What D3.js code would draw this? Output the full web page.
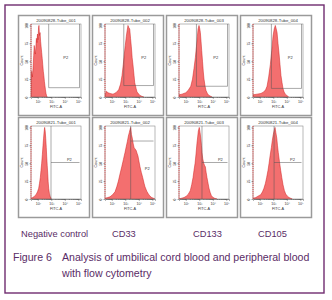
<!DOCTYPE html>
<html>
<head>
<meta charset="utf-8">
<script src="https://cdn.jsdelivr.net/npm/d3@7"></script>
<style>
  body { margin: 0; background: #fff; }
  svg { display: block; font-family: Arial, "Liberation Sans", sans-serif; }
</style>
</head>
<body>
<div id="chart"></div>
<script>
// Títulos de cada tubo (fila 1: sangre de cordón, fila 2: sangre periférica)
const titulos = [
  "20090828-Tube_001", "20090828-Tube_002", "20090828-Tube_003", "20090828-Tube_004",
  "20090821-Tube_001", "20090821-Tube_002", "20090821-Tube_003", "20090821-Tube_004"
];
const columnas = ["Negative control", "CD33", "CD133", "CD105"];
const ticksX = [2, 3, 4, 5];          // décadas log10 de FITC-A
const ticksY = [0, 25, 50, 75, 100];  // cuentas relativas

// Histogramas: [log10 FITC-A, cuentas relativas]
const cordonNeg = [[1.50,30],[1.55,36],[1.60,28],[1.65,40],[1.70,58],[1.74,72],[1.78,64],[1.82,60],[1.86,70],[1.90,82],[1.94,76],[1.98,88],[2.02,80],[2.06,97],[2.09,100],[2.13,86],[2.17,90],[2.21,78],[2.25,70],[2.29,62],[2.33,54],[2.37,45],[2.41,36],[2.45,30],[2.49,22],[2.53,16],[2.57,10],[2.61,5],[2.65,2],[2.70,0]];
const cordonCD33 = [[1.50,3],[1.61,8],[1.72,6],[1.87,5],[2.09,4],[2.31,6],[2.51,10],[2.65,18],[2.76,30],[2.85,45],[2.93,60],[3.00,72],[3.08,85],[3.14,93],[3.20,100],[3.26,97],[3.33,95],[3.39,82],[3.45,70],[3.51,55],[3.57,45],[3.65,30],[3.70,20],[3.80,12],[3.87,7],[4.09,2],[4.37,0]];
const cordonCD133 = [[1.50,3],[1.72,4],[2.00,6],[2.17,9],[2.37,15],[2.50,25],[2.61,40],[2.71,55],[2.79,70],[2.86,85],[2.91,95],[2.98,100],[3.03,96],[3.08,90],[3.13,78],[3.18,65],[3.24,50],[3.30,35],[3.35,25],[3.43,15],[3.50,9],[3.60,5],[3.72,2],[3.85,1],[3.94,0]];
const cordonCD105 = [[1.50,3],[1.80,4],[2.09,5],[2.29,7],[2.43,10],[2.54,15],[2.66,28],[2.78,45],[2.89,65],[2.98,85],[3.07,95],[3.15,100],[3.22,95],[3.28,90],[3.35,75],[3.43,60],[3.50,45],[3.57,30],[3.65,20],[3.72,12],[3.80,7],[3.89,4],[4.14,0]];
const perifNeg = [[1.50,1],[1.63,2],[1.76,4],[1.87,6],[1.98,10],[2.07,15],[2.13,22],[2.19,30],[2.24,40],[2.29,50],[2.34,62],[2.39,75],[2.43,85],[2.46,92],[2.49,97],[2.51,100],[2.55,95],[2.59,85],[2.63,72],[2.66,60],[2.70,47],[2.74,35],[2.77,24],[2.81,15],[2.86,8],[2.91,4],[3.00,0]];
const perifCD33 = [[1.50,1],[1.69,2],[1.87,3],[2.06,6],[2.24,10],[2.37,17],[2.49,25],[2.61,35],[2.74,45],[2.86,55],[2.98,65],[3.07,73],[3.15,80],[3.23,88],[3.30,93],[3.35,97],[3.40,100],[3.46,90],[3.52,85],[3.59,77],[3.65,72],[3.72,70],[3.80,68],[3.87,64],[3.94,60],[4.02,52],[4.09,45],[4.19,37],[4.29,30],[4.39,22],[4.46,17],[4.59,11],[4.71,7],[4.83,4],[4.96,2],[5.09,1],[5.20,0]];
const perifCD133 = [[1.50,0],[1.67,1],[1.87,2],[2.04,4],[2.20,7],[2.34,12],[2.44,20],[2.54,30],[2.61,40],[2.69,50],[2.76,63],[2.83,78],[2.89,88],[2.93,95],[3.00,100],[3.06,93],[3.11,85],[3.16,75],[3.20,65],[3.26,56],[3.33,50],[3.39,47],[3.45,45],[3.51,37],[3.57,30],[3.65,22],[3.72,15],[3.81,9],[3.89,5],[4.02,2],[4.14,1],[4.31,0]];
const perifCD105 = [[1.50,1],[1.70,2],[1.87,4],[2.07,6],[2.20,10],[2.31,15],[2.42,22],[2.51,30],[2.61,40],[2.69,50],[2.77,61],[2.86,72],[2.93,82],[3.00,90],[3.07,96],[3.13,100],[3.19,93],[3.26,85],[3.31,75],[3.37,65],[3.46,52],[3.55,40],[3.63,30],[3.72,20],[3.82,12],[3.92,7],[4.04,4],[4.17,2],[4.41,0]];

// Compuertas P2: [posición log10, nivel (cuentas), etiqueta x log10, etiqueta y]
const gateCordon = [[2.81,13,4.07,53],[2.89,16,4.37,53],[2.79,15,4.22,53],[2.86,12,4.26,53]];
const gatePerif  = [[2.98,51,4.34,53],[3.40,81,4.63,40],[3.20,51,4.56,53],[3.06,51,4.42,53]];

const histogramas = [cordonNeg, cordonCD33, cordonCD133, cordonCD105, perifNeg, perifCD33, perifCD133, perifCD105];
const gates = [...gateCordon, ...gatePerif];

const W = 332, H = 300;
const svg = d3.select("#chart").append("svg").attr("width", W).attr("height", H);

// Marco exterior morado
svg.append("rect").attr("x", 5).attr("y", 5).attr("width", 319).attr("height", 288)
  .attr("fill", "#fff").attr("stroke", "#6f2c6f").attr("stroke-width", 1.4);

const panelX = [18, 92, 166, 240];
const panelY = [15, 117];
const panelW = 72, panelH = 101;
const m = { left: 13, top: 9, width: 50, height: 73 };

const x = d3.scaleLinear().domain([1.5, 5.2]).range([0, m.width]);
const y = d3.scaleLinear().domain([0, 102]).range([m.height, 0]);
const sup = { 2: "\u00b2", 3: "\u00b3", 4: "\u2074", 5: "\u2075" };

// ticks menores en escala log
const menores = [];
for (let dec = 1; dec <= 5; dec++) {
  for (let k = 2; k <= 9; k++) {
    const v = dec + Math.log10(k);
    if (v > 1.5 && v < 5.2) menores.push(v);
  }
}

histogramas.forEach((datos, i) => {
  const fila = Math.floor(i / 4), col = i % 4;
  const p = svg.append("g").attr("transform", `translate(${panelX[col]},${panelY[fila]})`);

  // borde gris del panel
  p.append("rect").attr("x", 0.5).attr("y", 0.5).attr("width", panelW - 1).attr("height", panelH - 1)
    .attr("fill", "#fff").attr("stroke", "#9a9a9a").attr("stroke-width", 1.5);

  p.append("text").attr("x", m.left + m.width / 2).attr("y", 6.5)
    .attr("text-anchor", "middle").attr("font-size", 4.3).attr("fill", "#333")
    .text(titulos[i]);

  const g = p.append("g").attr("transform", `translate(${m.left},${m.top})`);

  const clipId = "clip" + i;
  g.append("clipPath").attr("id", clipId).append("rect")
    .attr("width", m.width).attr("height", m.height);

  // histograma rojo
  const area = d3.area().x(d => x(d[0])).y0(y(0)).y1(d => y(d[1]));
  g.append("path").datum(datos).attr("d", area)
    .attr("clip-path", `url(#${clipId})`)
    .attr("fill", "#f36f6f").attr("stroke", "#d01c1c").attr("stroke-width", 0.5);

  // marco del gráfico
  g.append("rect").attr("width", m.width).attr("height", m.height)
    .attr("fill", "none").attr("stroke", "#8a8a8a").attr("stroke-width", 0.6);

  // eje y punteado rojo
  g.append("line").attr("x1", 0).attr("x2", 0).attr("y1", 0).attr("y2", m.height)
    .attr("stroke", "#d42a2a").attr("stroke-width", 0.9).attr("stroke-dasharray", "1.2,0.9");

  // compuerta P2
  const [gx, gy, lx, ly] = gates[i];
  const gate = g.append("g").attr("stroke", "#555").attr("stroke-width", 0.5).attr("fill", "none");
  gate.append("line").attr("x1", x(gx)).attr("x2", x(gx)).attr("y1", 0).attr("y2", fila === 0 ? y(gy) : m.height);
  gate.append("line").attr("x1", x(gx)).attr("x2", m.width - 1.5).attr("y1", y(gy)).attr("y2", y(gy));
  if (fila === 0) {
    gate.append("line").attr("x1", m.width - 1.5).attr("x2", m.width - 1.5).attr("y1", 0).attr("y2", y(gy));
  }
  g.append("text").attr("x", x(lx)).attr("y", y(ly)).attr("font-size", 4).attr("fill", "#333")
    .attr("text-anchor", "middle").text("P2");

  // eje x
  const ejeX = g.append("g").attr("transform", `translate(0,${m.height})`)
    .call(d3.axisBottom(x).tickValues(ticksX).tickSize(1.8).tickPadding(1.2).tickFormat(d => "10" + sup[d]));
  g.append("g").attr("transform", `translate(0,${m.height})`)
    .call(d3.axisBottom(x).tickValues(menores).tickSize(1).tickFormat(""))
    .call(a => a.select(".domain").remove())
    .selectAll("line").attr("stroke", "#444").attr("stroke-width", 0.4);
  ejeX.select(".domain").attr("stroke", "#444").attr("stroke-width", 0.5);
  ejeX.selectAll("line").attr("stroke", "#444").attr("stroke-width", 0.5);
  ejeX.selectAll("text").attr("font-size", 3.6).attr("fill", "#333").attr("font-family", "Arial, 'Liberation Sans', sans-serif");

  // eje y
  const ejeY = g.append("g")
    .call(d3.axisLeft(y).tickValues(ticksY).tickSize(1.5).tickFormat(d => d));
  ejeY.select(".domain").remove();
  ejeY.selectAll("line").attr("stroke", "#444").attr("stroke-width", 0.5);
  ejeY.selectAll("text").attr("font-size", 3.2).attr("fill", "#333")
    .attr("font-family", "Arial, 'Liberation Sans', sans-serif")
    .attr("x", 0).attr("y", -3.2).attr("dy", 0).attr("text-anchor", "middle")
    .attr("transform", "rotate(-90)");

  g.append("text").attr("transform", `translate(-8.5,${m.height / 2}) rotate(-90)`)
    .attr("text-anchor", "middle").attr("font-size", 3.8).attr("fill", "#333").text("Count");
  g.append("text").attr("x", m.width / 2).attr("y", m.height + 10.5)
    .attr("text-anchor", "middle").attr("font-size", 3.8).attr("fill", "#333").text("FITC-A");
});

// Etiquetas de columnas
const colorTexto = "#5a2c66";
const etiquetaX = [21, 112, 193, 258];
svg.selectAll(".col").data(columnas).enter().append("text")
  .attr("x", (d, i) => etiquetaX[i]).attr("y", 237)
  .attr("font-size", 9.3).attr("fill", colorTexto).text(d => d);

// Pie de figura
svg.append("text").attr("x", 13).attr("y", 260.5).attr("font-size", 10.6).attr("fill", colorTexto).text("Figure 6");
svg.append("text").attr("x", 62).attr("y", 260.5).attr("font-size", 10.6).attr("fill", colorTexto)
  .text("Analysis of umbilical cord blood and peripheral blood");
svg.append("text").attr("x", 62).attr("y", 277).attr("font-size", 10.6).attr("fill", colorTexto)
  .text("with flow cytometry");
</script>
</body>
</html>
